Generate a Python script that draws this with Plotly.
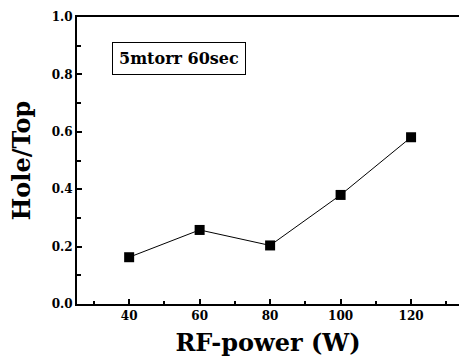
import plotly.graph_objects as go

rf_power = [40, 60, 80, 100, 120]
hole_top = [0.163, 0.258, 0.204, 0.380, 0.581]
x_ticks = [40, 60, 80, 100, 120]
y_ticks = [0.0, 0.2, 0.4, 0.6, 0.8, 1.0]
y_tick_labels = ["0.0", "0.2", "0.4", "0.6", "0.8", "1.0"]

font_family = "DejaVu Serif, Liberation Serif, serif"

fig = go.Figure()
fig.add_trace(go.Scatter(
    x=rf_power, y=hole_top, mode="lines+markers",
    line=dict(color="black", width=1),
    marker=dict(symbol="square", size=10, color="black"),
    showlegend=False,
))

fig.update_layout(
    template="none",
    width=459, height=364,
    margin=dict(l=77, r=0, t=17, b=60),
    plot_bgcolor="white", paper_bgcolor="white",
    font=dict(family=font_family, color="black"),
    xaxis=dict(
        range=[25.2, 133.6],
        tickvals=x_ticks, ticktext=[str(v) for v in x_ticks],
        ticks="inside", ticklen=5, tickwidth=2, tickcolor="black",
        minor=dict(dtick=20, tick0=30, ticks="inside", ticklen=3, tickwidth=2, tickcolor="black"),
        showline=True, linewidth=2, linecolor="black", mirror=True,
        showgrid=False, zeroline=False,
        tickfont=dict(size=12, family=font_family, color="black", weight="bold"),
        title=dict(text="<b>RF-power (W)</b>", font=dict(size=24, family=font_family, color="black"), standoff=12),
    ),
    yaxis=dict(
        range=[0, 1.0],
        tickvals=y_ticks, ticktext=y_tick_labels,
        ticks="inside", ticklen=5, tickwidth=2, tickcolor="black",
        minor=dict(dtick=0.2, tick0=0.1, ticks="inside", ticklen=4, tickwidth=1.5, tickcolor="black"),
        showline=True, linewidth=2, linecolor="black", mirror=False,
        showgrid=False, zeroline=False,
        tickfont=dict(size=12, family=font_family, color="black", weight="bold"),
        title=dict(text="<b>Hole/Top</b>", font=dict(size=24, family=font_family, color="black"), standoff=14),
    ),
    annotations=[dict(
        x=0.268, y=0.857, xref="paper", yref="paper", xanchor="center", yanchor="middle",
        text="<b>5mtorr 60sec</b>", showarrow=False,
        font=dict(size=16, family=font_family, color="black"),
        bordercolor="black", borderwidth=1, borderpad=6, bgcolor="white",
    )],
)

fig.write_html("out.html")
